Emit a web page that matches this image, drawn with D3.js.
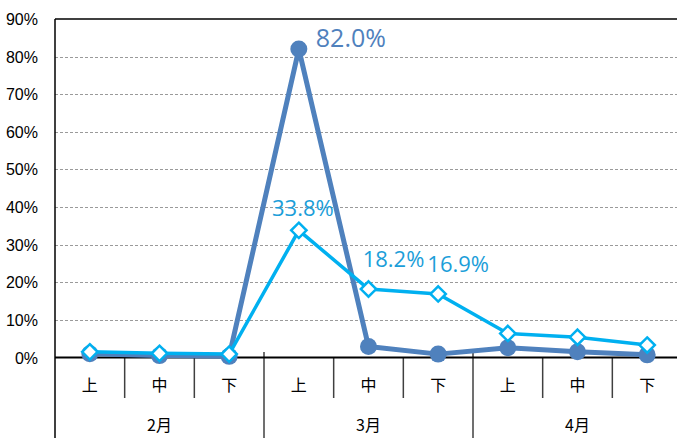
<!DOCTYPE html>
<html>
<head>
<meta charset="utf-8">
<script src="https://cdn.jsdelivr.net/npm/d3@7"></script>
<style>
  body { margin: 0; background: #fff; overflow: hidden; }
</style>
</head>
<body>
<script>
// chart data
var periods = ["上", "中", "下", "上", "中", "下", "上", "中", "下"];
var months = ["2月", "3月", "4月"];
var seriesDark = [0.010, 0.005, 0.003, 0.820, 0.029, 0.009, 0.026, 0.015, 0.007];
var seriesCyan = [0.015, 0.011, 0.009, 0.338, 0.182, 0.169, 0.064, 0.054, 0.033];
var yTicks = [0, 0.1, 0.2, 0.3, 0.4, 0.5, 0.6, 0.7, 0.8, 0.9];
// which points carry a data label
var darkLabels = [3];
var cyanLabels = [3, 4, 5];

var width = 677, height = 438;
// plot area edges (window.top is reserved, so use own names)
var plotLeft = 55, plotRight = 682, plotTop = 19, plotBottom = 357.5;

var svg = d3.select("body").append("svg")
    .attr("width", width)
    .attr("height", height);

var x = d3.scaleBand()
    .domain(d3.range(periods.length))
    .range([plotLeft, plotRight]);

var y = d3.scaleLinear()
    .domain([0, 0.9])
    .range([plotBottom, plotTop]);

var fmtAxis = d3.format(".0%");
var fmtLabel = d3.format(".1%");

// dashed gridlines
svg.append("g")
    .selectAll("line")
    .data(yTicks.filter(function(d){ return d > 0 && d < 0.9; }))
    .join("line")
    .attr("x1", plotLeft).attr("x2", width)
    .attr("y1", function(d){ return Math.round(y(d)) + 0.5; })
    .attr("y2", function(d){ return Math.round(y(d)) + 0.5; })
    .attr("stroke", "#9a9a9a")
    .attr("stroke-width", 1)
    .attr("stroke-dasharray", "3,2");

// top border and left axis
svg.append("line")
    .attr("x1", plotLeft).attr("x2", width)
    .attr("y1", y(0.9)).attr("y2", y(0.9))
    .attr("stroke", "#000").attr("stroke-width", 1.5);
svg.append("line")
    .attr("x1", plotLeft).attr("x2", plotLeft)
    .attr("y1", y(0.9)).attr("y2", height)
    .attr("stroke", "#000").attr("stroke-width", 1.5);

// y tick labels
svg.append("g")
    .selectAll("text")
    .data(yTicks)
    .join("text")
    .attr("x", 38)
    .attr("y", function(d){ return y(d) + 6; })
    .attr("text-anchor", "end")
    .attr("font-family", "Liberation Sans, Arial, sans-serif")
    .attr("font-size", 16)
    .attr("fill", "#000")
    .text(fmtAxis);

// minor ticks between periods
var minorIdx = d3.range(1, periods.length).filter(function(i){ return i % 3 !== 0; });
svg.append("g")
    .selectAll("line")
    .data(minorIdx)
    .join("line")
    .attr("x1", function(i){ return x(i); })
    .attr("x2", function(i){ return x(i); })
    .attr("y1", plotBottom).attr("y2", 398)
    .attr("stroke", "#404040").attr("stroke-width", 1.5);

// month separators
svg.append("g")
    .selectAll("line")
    .data([3, 6])
    .join("line")
    .attr("x1", function(i){ return x(i); })
    .attr("x2", function(i){ return x(i); })
    .attr("y1", 352).attr("y2", height)
    .attr("stroke", "#404040").attr("stroke-width", 1.5);

// x axis line
svg.append("line")
    .attr("x1", plotLeft).attr("x2", width)
    .attr("y1", plotBottom).attr("y2", plotBottom)
    .attr("stroke", "#000").attr("stroke-width", 2);

// period labels
svg.append("g")
    .selectAll("text")
    .data(periods)
    .join("text")
    .attr("x", function(d, i){ return x(i) + x.bandwidth() / 2; })
    .attr("y", 391)
    .attr("text-anchor", "middle")
    .attr("font-family", "Noto Sans CJK JP, sans-serif")
    .attr("font-size", 16)
    .attr("fill", "#000")
    .text(function(d){ return d; });

// month labels
svg.append("g")
    .selectAll("text")
    .data(months)
    .join("text")
    .attr("x", function(d, i){ return x(i * 3) + x.bandwidth() * 1.5; })
    .attr("y", 431)
    .attr("text-anchor", "middle")
    .attr("font-family", "Noto Sans CJK JP, sans-serif")
    .attr("font-size", 16)
    .attr("fill", "#000")
    .text(function(d){ return d; });

var cx = function(d, i){ return x(i) + x.bandwidth() / 2; };
var line = d3.line()
    .x(cx)
    .y(function(d){ return y(d); });

// dark series
svg.append("path")
    .datum(seriesDark)
    .attr("d", line)
    .attr("fill", "none")
    .attr("stroke", "#4F81BD")
    .attr("stroke-width", 5)
    .attr("stroke-linejoin", "round");
svg.append("g")
    .selectAll("circle")
    .data(seriesDark)
    .join("circle")
    .attr("cx", cx)
    .attr("cy", function(d){ return y(d); })
    .attr("r", 8.5)
    .attr("fill", "#4F81BD");

// cyan series
svg.append("path")
    .datum(seriesCyan)
    .attr("d", line)
    .attr("fill", "none")
    .attr("stroke", "#00B0F0")
    .attr("stroke-width", 3.5)
    .attr("stroke-linejoin", "round");
var diamond = d3.symbol().type(d3.symbolDiamond2).size(150);
svg.append("g")
    .selectAll("path")
    .data(seriesCyan)
    .join("path")
    .attr("d", diamond)
    .attr("transform", function(d, i){ return "translate(" + cx(d, i) + "," + y(d) + ")"; })
    .attr("fill", "#fff")
    .attr("stroke", "#00B0F0")
    .attr("stroke-width", 2.5);

// data labels
svg.append("g")
    .selectAll("text")
    .data(darkLabels)
    .join("text")
    .attr("x", function(i){ return cx(null, i) + 17; })
    .attr("y", function(i){ return y(seriesDark[i]) - 2; })
    .attr("font-family", "Open Sans, sans-serif")
    .attr("font-size", 25)
    .attr("fill", "#4F81BD")
    .text(function(i){ return fmtLabel(seriesDark[i]); });

var cyanOffsets = { 3: [4, -14], 4: [25, -22], 5: [20, -22] };
svg.append("g")
    .selectAll("text")
    .data(cyanLabels)
    .join("text")
    .attr("x", function(i){ return cx(null, i) + cyanOffsets[i][0]; })
    .attr("y", function(i){ return y(seriesCyan[i]) + cyanOffsets[i][1]; })
    .attr("text-anchor", "middle")
    .attr("font-family", "Open Sans, sans-serif")
    .attr("font-size", 22)
    .attr("fill", "#1B9ED9")
    .text(function(i){ return fmtLabel(seriesCyan[i]); });
</script>
</body>
</html>
